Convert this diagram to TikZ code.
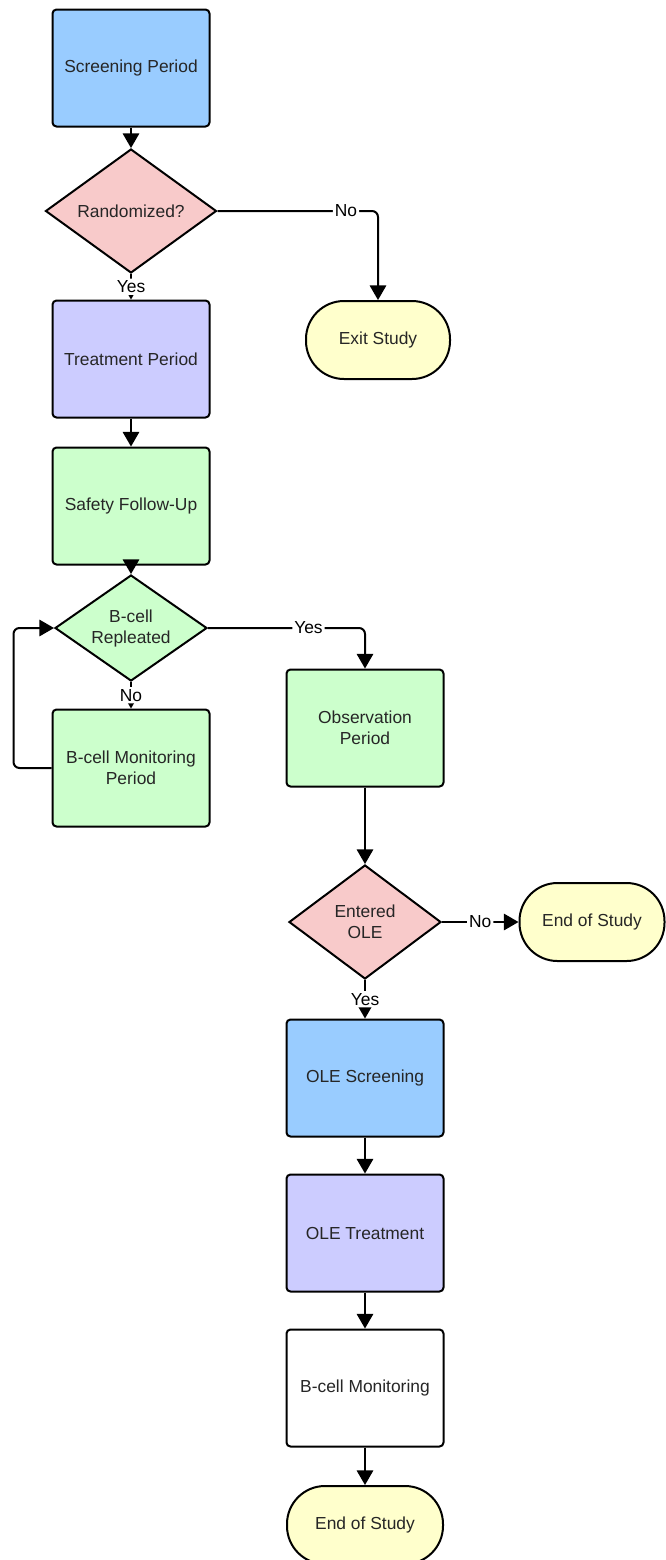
\documentclass[tikz,border=0pt]{standalone}
\usepackage{fontspec}
\setmainfont{Liberation Sans}
\usepackage{tikz}
\usetikzlibrary{shapes}
\usetikzlibrary{arrows}
\usetikzlibrary{positioning}
\definecolor{screenblue}{HTML}{99CCFF}
\definecolor{treatpurple}{HTML}{CCCCFF}
\definecolor{safegreen}{HTML}{CCFFCC}
\definecolor{decpink}{HTML}{F8CACA}
\definecolor{termyellow}{HTML}{FFFFCC}
\tikzstyle{period}=[rectangle,draw=black,rounded corners=2pt,minimum width=78.5pt,minimum height=58.5pt,align=center,text=black!85,font=\fontsize{8.7}{10.5}\selectfont]
\tikzstyle{decision}=[diamond,draw=black,aspect=1.4,inner sep=0pt,align=center,text=black!85,font=\fontsize{8.7}{10.5}\selectfont]
\tikzstyle{terminal}=[rectangle,draw=black,fill=termyellow,rounded corners=19pt,minimum width=72pt,minimum height=39pt,text=black!85,font=\fontsize{8.7}{10.5}\selectfont]
\tikzstyle{answer}=[fill=white,inner sep=1pt,font=\fontsize{8.7}{10.5}\selectfont]
\tikzstyle{arrow}=[->,>=triangle 60,rounded corners=3pt]
\tikzset{every picture/.style={
    line width=1
  }
}
\begin{document}
\begin{tikzpicture}[x=0.5pt,y=-0.5pt]
          \useasboundingbox (0,0) rectangle (665,1560);
          \node[period, fill=screenblue] at (131,68) (screen) {Screening Period};
          \node[decision, fill=decpink, minimum width=85.5pt, minimum height=62pt] at (131,211) (rand) {Randomized?};
          \node[period, fill=treatpurple] at (131,359) (treat) {Treatment Period};
          \node[terminal] at (378,340) (exit) {Exit Study};
          \draw[arrow] (screen)--(rand);
          \draw[arrow] (rand)-- node[answer] {Yes} (treat);
          \draw[arrow] (rand)-| node[answer,pos=0.4] {No} (exit);
          \node[period, fill=safegreen] at (131,506) (safety) {Safety Follow-Up};
          \node[decision, fill=safegreen, minimum width=76pt, minimum height=53pt] at (131,628) (rep) {B-cell\\Repleated};
          \node[period, fill=safegreen] at (131,768) (mon) {B-cell Monitoring\\Period};
          \node[period, fill=safegreen] at (365,728) (obs) {Observation\\Period};
          \draw[arrow] (treat)--(safety);
          \draw[arrow] (safety)--(rep);
          \draw[arrow] (rep)-- node[answer] {No} (mon);
          \draw[arrow] (rep)-| node[answer,pos=0.32] {Yes} (obs);
          \draw[arrow] (mon.west)-- ++(-38,0) |- (rep.west);
          \node[decision, fill=decpink, minimum width=76pt, minimum height=57pt] at (365,922) (ole) {Entered\\OLE};
          \node[terminal, minimum width=72.5pt] at (592,922) (endA) {End of Study};
          \draw[arrow] (obs)--(ole);
          \draw[arrow] (ole)-- node[answer] {No} (endA);
          \node[period, fill=screenblue] at (365,1078) (olescreen) {OLE Screening};
          \node[period, fill=treatpurple] at (365,1233) (oletreat) {OLE Treatment};
          \node[period, fill=white] at (365,1388) (olemon) {B-cell Monitoring};
          \node[terminal, minimum width=78pt] at (365,1525) (endB) {End of Study};
          \draw[arrow] (ole)-- node[answer] {Yes} (olescreen);
          \draw[arrow] (olescreen)--(oletreat);
          \draw[arrow] (oletreat)--(olemon);
          \draw[arrow] (olemon)--(endB);
        \end{tikzpicture}
\end{document}
